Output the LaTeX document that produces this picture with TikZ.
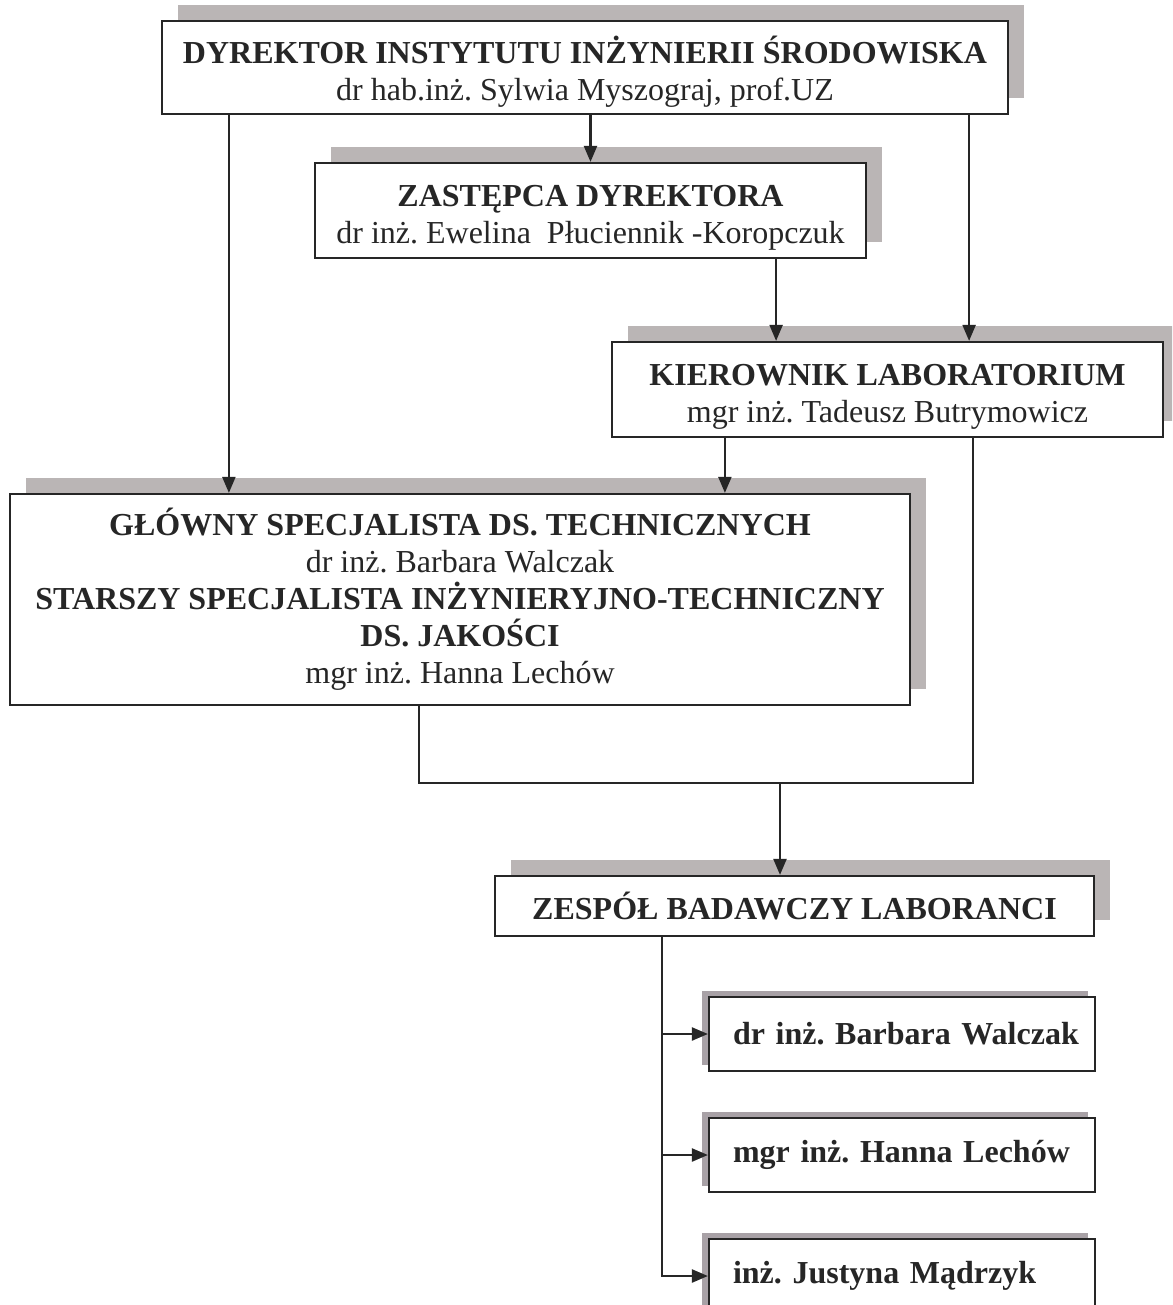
\documentclass[tikz,border=0pt]{standalone}
\usepackage{fontspec}
\setmainfont{Liberation Serif}
\usetikzlibrary{arrows.meta, shadows}

\definecolor{shadowgrey}{RGB}{186,181,181}
\definecolor{shadowmauve}{RGB}{168,161,166}
\definecolor{ink}{RGB}{38,38,38}

\frenchspacing

\begin{document}
\begin{tikzpicture}[x=1pt, y=-1pt,
    frame/.style={draw=ink, line width=2.2pt, fill=white, inner sep=0pt,
      align=center, text=ink, font=\fontsize{32}{37}\selectfont},
    box/.style={frame,
      general shadow={fill=shadowgrey, shadow xshift=16pt, shadow yshift=16pt}},
    person/.style={frame, minimum width=386pt, minimum height=74pt,
      text width=338pt, align=left, font=\fontsize{32}{37}\selectfont\bfseries,
      general shadow={fill=shadowmauve, shadow xshift=-7pt, shadow yshift=6pt}},
    link/.style={draw=ink, line width=2.2pt},
    arr/.style={link, -{Triangle[length=16pt, width=13pt]}}]

      \useasboundingbox (0,0) rectangle (1172,1305);
      \clip (0,0) rectangle (1172,1305);
      \fill[white] (0,0) rectangle (1172,1305);

      \node[box, minimum width=846pt, minimum height=93pt] (dyr) at (585,67.5)
        {\rule{0pt}{36pt}\textbf{DYREKTOR INSTYTUTU INŻYNIERII ŚRODOWISKA}\\dr hab.inż. Sylwia Myszograj, prof.UZ};
      \node[box, minimum width=551pt, minimum height=95pt] (zast) at (590.5,210.5)
        {\rule{0pt}{36pt}\textbf{ZASTĘPCA DYREKTORA}\\dr inż. Ewelina\ \ Płuciennik -Koropczuk};
      \node[box, minimum width=551pt, minimum height=95pt] (kier) at (887.5,389.5)
        {\rule{0pt}{36pt}\textbf{KIEROWNIK LABORATORIUM}\\mgr inż. Tadeusz Butrymowicz};
      \node[box, minimum width=900pt, minimum height=211pt] (glow) at (460,599.5)
        {\textbf{GŁÓWNY SPECJALISTA DS. TECHNICZNYCH}\\dr inż. Barbara Walczak\\
         \textbf{STARSZY SPECJALISTA INŻYNIERYJNO-TECHNICZNY}\\\textbf{DS. JAKOŚCI}\\
         mgr inż. Hanna Lechów};
      \node[box, minimum width=599pt, minimum height=60pt] (zesp) at (794.5,906)
        {\textbf{ZESPÓŁ BADAWCZY LABORANCI}};

      \node[person] (os1) at (902,1034) {\mbox{dr inż. Barbara Walczak}};
      \node[person] (os2) at (902,1155) {\mbox{mgr inż. Hanna Lechów}};
      \node[person] (os3) at (902,1276) {\mbox{inż. Justyna Mądrzyk}};

      \coordinate (a1) at ([xshift=68pt]dyr.south west);
      \coordinate (a3) at ([xshift=-40pt]dyr.south east);
      \coordinate (z1) at ([xshift=-91pt]zast.south east);
      \coordinate (k1) at ([xshift=114pt]kier.south west);
      \coordinate (k2) at ([xshift=-191pt]kier.south east);
      \coordinate (g1) at ([xshift=410pt]glow.south west);
      \coordinate (join) at (780,783);
      \coordinate (zs) at ([xshift=168pt]zesp.south west);

      \draw[arr] (a1) -- (a1 |- glow.north);
      \draw[arr] (dyr.south -| zast.north) -- (zast.north);
      \draw[arr] (a3) -- (a3 |- kier.north);
      \draw[arr] (z1) -- (z1 |- kier.north);
      \draw[arr] (k1) -- (k1 |- glow.north);

      \draw[link] (k2) |- (join);
      \draw[link] (g1) |- (join);
      \draw[arr] (join) -- (join |- zesp.north);

      \foreach \n in {os1, os2, os3}
        \draw[arr] (zs) |- (\n.west);

\end{tikzpicture}
\end{document}
